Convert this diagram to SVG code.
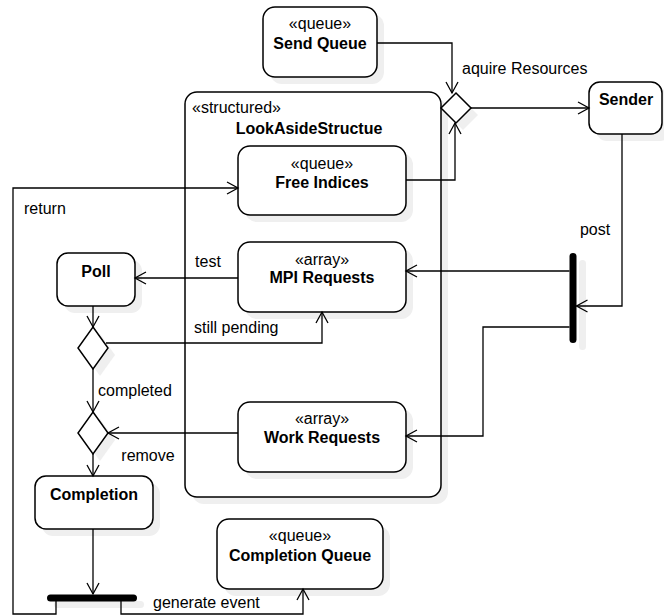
<svg xmlns="http://www.w3.org/2000/svg" width="664" height="616" viewBox="0 0 664 616">
<style>
.n{fill:#fff;stroke:#000;stroke-width:1.5}
.sh{fill:#efefef;stroke:none}
.e{fill:none;stroke:#000;stroke-width:1.3}
.t{font-family:"Liberation Sans",Arial,sans-serif;font-size:16px;fill:#000}
.b{font-weight:bold}
.m{text-anchor:middle}
</style>
<defs>
<marker id="a" markerUnits="userSpaceOnUse" markerWidth="14" markerHeight="16" viewBox="-12 -8 14 16" refX="0" refY="0" orient="auto">
<path d="M-11,-6 L0,0 L-11,6" fill="none" stroke="#000" stroke-width="1.3"/>
</marker>
</defs>
<rect width="664" height="616" fill="#fff"/>
<g id="structured">
<rect class="sh" x="192" y="99" width="256" height="405" rx="12"/>
<rect class="n" x="185" y="92" width="256" height="405" rx="12"/>
<text class="t" x="192" y="113">«structured»</text>
<text class="t b m" x="309" y="134">LookAsideStructue</text>
</g>
<g id="sendqueue">
<rect class="sh" x="270" y="14" width="114" height="70" rx="12"/>
<rect class="n" x="263" y="7" width="114" height="70" rx="12"/>
<text class="t m" x="320" y="29">«queue»</text>
<text class="t b m" x="320" y="49">Send Queue</text>
</g>
<g id="decision1">
<path class="sh" d="M463,100 L478,115 L463,130 L448,115Z"/>
<path class="n" d="M456,93 L471,108 L456,123 L441,108Z"/>
</g>
<g id="sender">
<rect class="sh" x="596" y="89" width="75" height="52" rx="11"/>
<rect class="n" x="589" y="82" width="73" height="52" rx="11"/>
<text class="t b m" x="626" y="105">Sender</text>
</g>
<g id="freeindices">
<rect class="sh" x="245" y="153" width="168" height="69" rx="12"/>
<rect class="n" x="238" y="146" width="168" height="69" rx="12"/>
<text class="t m" x="322" y="169">«queue»</text>
<text class="t b m" x="322" y="188">Free Indices</text>
</g>
<g id="mpirequests">
<rect class="sh" x="245" y="249" width="168" height="70" rx="12"/>
<rect class="n" x="238" y="242" width="168" height="70" rx="12"/>
<text class="t m" x="322" y="265">«array»</text>
<text class="t b m" x="322" y="283">MPI Requests</text>
</g>
<g id="workrequests">
<rect class="sh" x="245" y="409" width="168" height="70" rx="12"/>
<rect class="n" x="238" y="402" width="168" height="70" rx="12"/>
<text class="t m" x="322" y="424">«array»</text>
<text class="t b m" x="322" y="443">Work Requests</text>
</g>
<g id="fork1">
<rect class="sh" x="579" y="260" width="7" height="90" rx="3.5"/>
<rect x="569.5" y="253" width="7" height="90" rx="3.5" fill="#000"/>
</g>
<g id="poll">
<rect class="sh" x="64" y="260" width="78" height="53" rx="11"/>
<rect class="n" x="57" y="253" width="78" height="53" rx="11"/>
<text class="t b m" x="96" y="277">Poll</text>
</g>
<g id="decision2">
<path class="sh" d="M100,334 L115,355 L100,376 L85,355Z"/>
<path class="n" d="M93,327 L108,348 L93,369 L78,348Z"/>
</g>
<g id="decision3">
<path class="sh" d="M100,419 L115,440 L100,461 L85,440Z"/>
<path class="n" d="M93,412 L108,433 L93,454 L78,433Z"/>
</g>
<g id="completion">
<rect class="sh" x="42" y="483" width="118" height="53" rx="11"/>
<rect class="n" x="35" y="476" width="118" height="53" rx="11"/>
<text class="t b m" x="94" y="500">Completion</text>
</g>
<g id="completionqueue">
<rect class="sh" x="224" y="526" width="166" height="70" rx="12"/>
<rect class="n" x="217" y="519" width="166" height="70" rx="12"/>
<text class="t m" x="300" y="541">«queue»</text>
<text class="t b m" x="300" y="561">Completion Queue</text>
</g>
<g id="fork2">
<rect class="sh" x="54" y="601" width="90" height="7" rx="3.5"/>
<rect x="47" y="594.5" width="90" height="7" rx="3.5" fill="#000"/>
</g>
<g id="connectors">
<path class="e" d="M377,43 H452 V93" marker-end="url(#a)"/>
<path class="e" d="M406,180 H455 V123" marker-end="url(#a)"/>
<path class="e" d="M471,108 H589" marker-end="url(#a)"/>
<path class="e" d="M622,134 V306 H576.5" marker-end="url(#a)"/>
<path class="e" d="M569.5,271 H406" marker-end="url(#a)"/>
<path class="e" d="M569.5,327 H483 V436 H406" marker-end="url(#a)"/>
<path class="e" d="M238,278 H135" marker-end="url(#a)"/>
<path class="e" d="M93,306 V327" marker-end="url(#a)"/>
<path class="e" d="M106,343 H322 V312" marker-end="url(#a)"/>
<path class="e" d="M93,369 V412" marker-end="url(#a)"/>
<path class="e" d="M238,433 H108" marker-end="url(#a)"/>
<path class="e" d="M93,454 V476" marker-end="url(#a)"/>
<path class="e" d="M93,529 V594" marker-end="url(#a)"/>
<path class="e" d="M56,601 V614 H13 V188 H238" marker-end="url(#a)"/>
<path class="e" d="M121,601 V614 H303 V589" marker-end="url(#a)"/>
<text class="t" x="462" y="74">aquire Resources</text>
<text class="t m" x="595" y="235">post</text>
<text class="t" x="24" y="214">return</text>
<text class="t m" x="208" y="267">test</text>
<text class="t" x="194" y="333">still pending</text>
<text class="t" x="98" y="396">completed</text>
<text class="t m" x="148" y="461">remove</text>
<text class="t" x="153" y="608">generate event</text>
</g>
</svg>
